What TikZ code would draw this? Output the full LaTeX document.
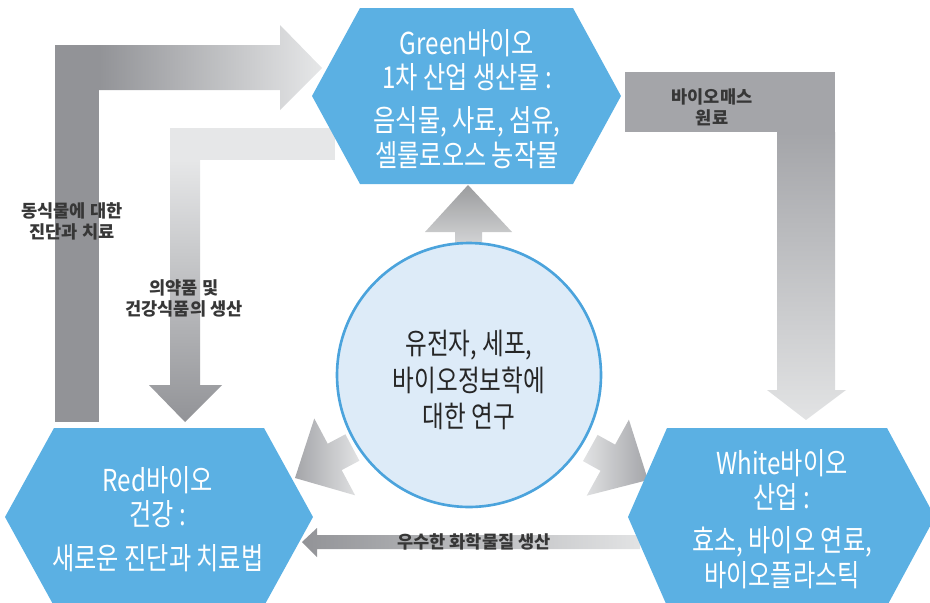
\documentclass[tikz,border=0pt]{standalone}
\usepackage{fontspec}
\newfontfamily\krfont[FakeStretch=0.8]{Noto Sans CJK KR}
\newfontfamily\krlabel{Noto Sans CJK KR}
\definecolor{hexblue}{RGB}{91,176,227}
\definecolor{circfill}{RGB}{221,235,248}
\definecolor{circblue}{RGB}{75,163,220}
\definecolor{bardark}{RGB}{146,147,151}
\definecolor{barmid}{RGB}{164,165,169}
\definecolor{barlight}{RGB}{230,231,232}
\definecolor{barpale}{RGB}{226,227,228}
\definecolor{barup}{RGB}{155,156,158}
\definecolor{labelgray}{RGB}{55,55,55}
\begin{document}
\begin{tikzpicture}[x=0.02cm, y=-0.02cm]
  \tikzstyle{hexagon}=[fill=hexblue]
  \tikzstyle{hextext}=[text=white, align=center, font=\krfont\fontsize{17.2}{19.8}\selectfont]
  \tikzstyle{circtext}=[text=black!85, align=center, font=\krfont\fontsize{16.8}{21}\selectfont]
  \tikzstyle{flowlabel}=[text=labelgray, align=center, font=\krlabel\bfseries\fontsize{10}{11.9}\selectfont]

  \useasboundingbox (0,0) rectangle (930,602);

  % outer arrow: Red -> Green
  \fill[bardark] (55,45) rectangle (99,422);
  \shade[left color=bardark, right color=barlight] (99,45) -- (280,45) -- (280,25) -- (322,68) -- (280,110) -- (280,90) -- (99,90) -- cycle;

  % inner arrow: Green -> Red
  \fill[barlight] (170,128) rectangle (335,160);
  \shade[top color=barlight, bottom color=bardark] (170,160) -- (200,160) -- (200,385) -- (222,385) -- (185,422) -- (149,385) -- (170,385) -- cycle;

  % Green -> White
  \fill[barmid] (625,72) rectangle (835,132);
  \shade[top color=barmid, bottom color=barpale] (777,132) -- (835,132) -- (835,390) -- (846,390) -- (806,420) -- (767,390) -- (777,390) -- cycle;

  % research -> Green
  \shade[top color=barup, bottom color=barpale] (455,260) -- (455,232) -- (425,232) -- (468,185) -- (512,232) -- (482,232) -- (482,260) -- cycle;

  % research -> Red, research -> White
  \shade[left color=barmid, right color=barpale] (295,478) -- (355.1,495.3) -- (341.7,470.1) -- (359.4,460.7) -- (345.4,434.3) -- (327.7,443.7) -- (314.3,418.5) -- cycle;
  \shade[left color=barpale, right color=barmid] (648,480) -- (586.7,495.7) -- (600.5,470.8) -- (583.0,461.1) -- (597.6,434.9) -- (615.1,444.6) -- (628.9,419.7) -- cycle;

  % White -> Red
  \shade[left color=bardark, middle color=barmid, right color=barpale] (640,535) -- (317,535) -- (317,528) -- (302,542) -- (317,557) -- (317,549) -- (640,549) -- cycle;

  % hexagons
  \fill[hexagon] (312,96) -- (360,8) -- (573,8) -- (621,96) -- (573,184) -- (360,184) -- cycle;
  \fill[hexagon] (5,517) -- (54,428) -- (264,428) -- (313,517) -- (264,606) -- (54,606) -- cycle;
  \fill[hexagon] (628,517) -- (667,428) -- (887,428) -- (935,517) -- (887,606) -- (667,606) -- cycle;

  \node[circle, draw=circblue, line width=1.5pt, fill=circfill, minimum size=5.28cm, inner sep=0pt] (research) at (469,375) {};

  \node[hextext] (greentext) at (467,99) {Green바이오\\1차 산업 생산물 :\\[4.5pt]음식물, 사료, 섬유,\\셀룰로오스 농작물};
  \node[hextext] (redtext) at (158,519) {Red바이오\\건강 :\\[5pt]새로운 진단과 치료법};
  \node[hextext] (whitetext) at (782,519) {White바이오\\산업 :\\[4.5pt]효소, 바이오 연료,\\바이오플라스틱};
  \node[circtext] (researchtext) at (469,380) {유전자, 세포,\\바이오정보학에\\대한 연구};

  \node[flowlabel] (diaglabel) at (72,221) {동식물에 대한\\진단과 치료};
  \node[flowlabel] (druglabel) at (184,298) {의약품 및\\건강식품의 생산};
  \node[flowlabel] (biomasslabel) at (712,107) {바이오매스\\원료};
  \node[flowlabel] (chemlabel) at (474,542) {우수한 화학물질 생산};
\end{tikzpicture}
\end{document}
